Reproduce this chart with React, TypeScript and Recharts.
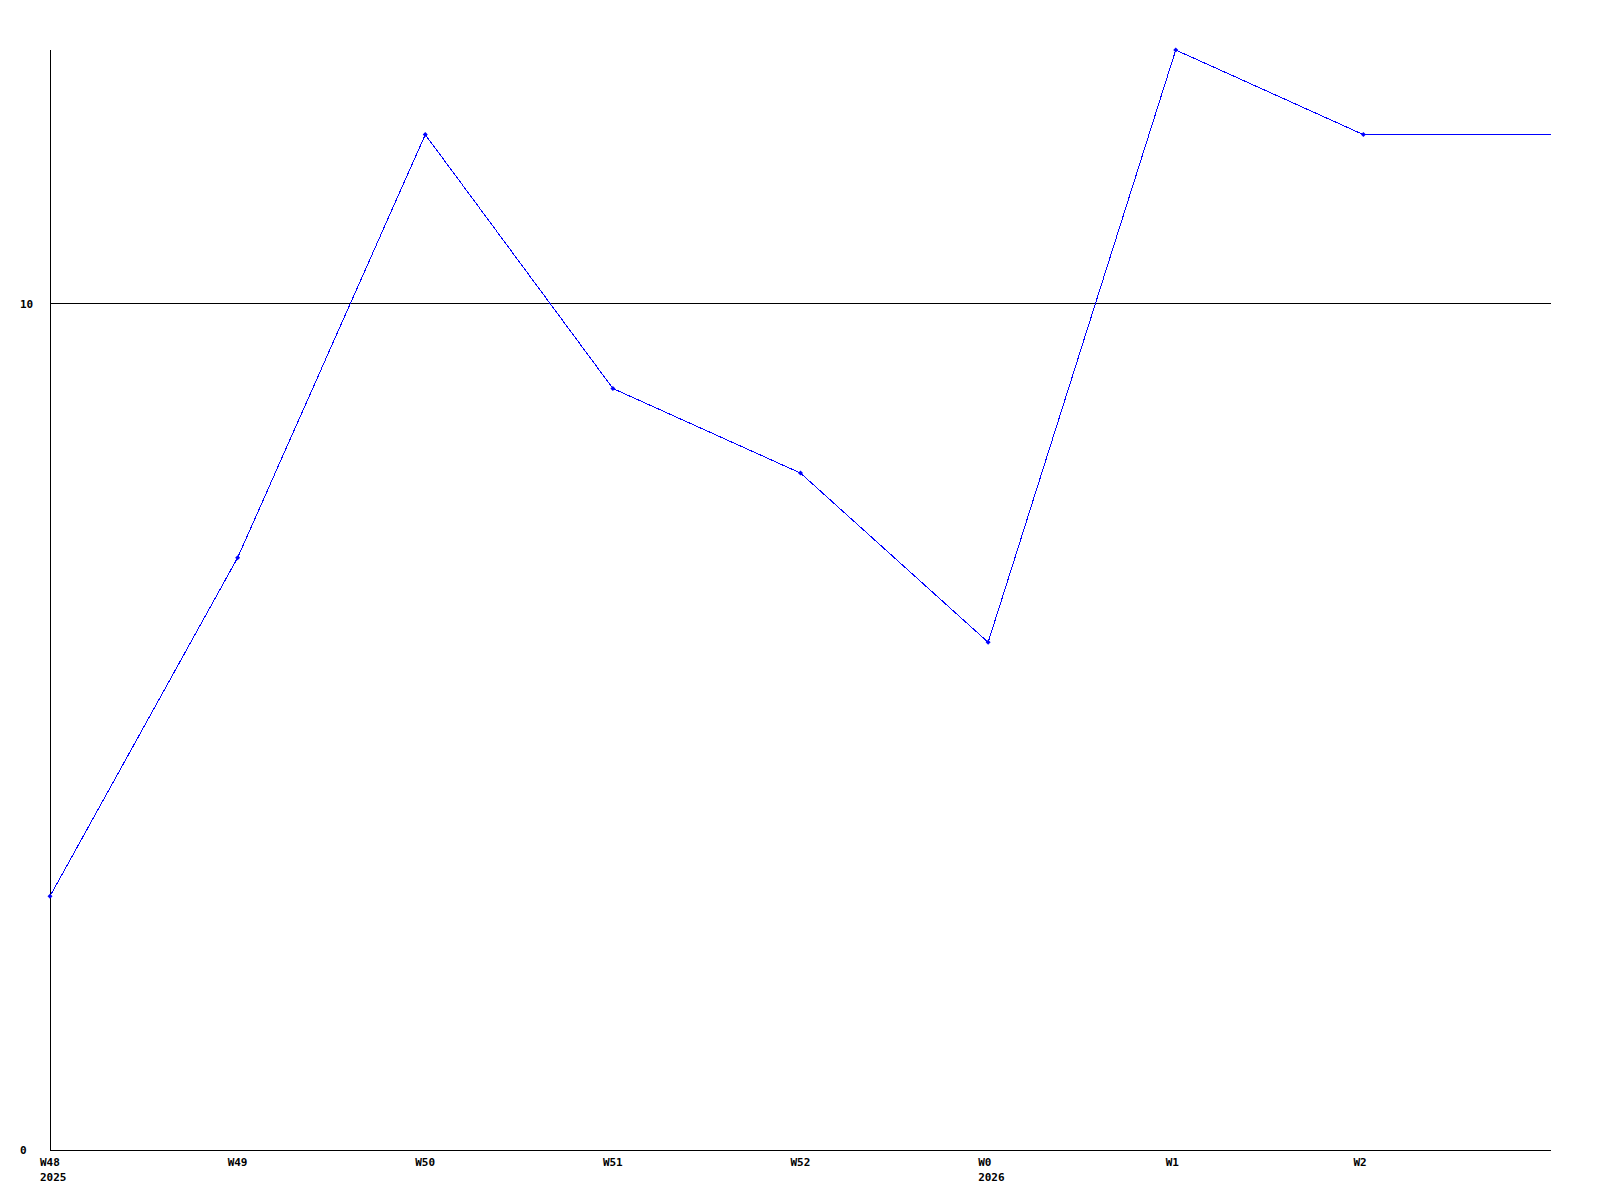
import { LineChart, Line, XAxis, YAxis, ReferenceLine } from "recharts";

// weekly values, last point is the running week (no label, no marker)
const weeks = ["W48", "W49", "W50", "W51", "W52", "W0", "W1", "W2", "W3"];
const years = ["2025", "", "", "", "", "2026", "", "", ""];
const values = [3, 7, 12, 9, 8, 6, 13, 12, 12];
const yTicks = [0, 10];

const data = weeks.map((w, i) => ({ week: w, year: years[i], value: values[i] }));

const FONT = "'DejaVu Sans Mono', monospace";

const WeekTick = ({ x, y, payload, index }: any) => {
  if (index === weeks.length - 1) return null;
  const yr = years[index];
  return (
    <g>
      <text x={x - 10} y={y + 16} textAnchor="start" fontFamily={FONT} fontWeight="bold" fontSize={11} fill="#000">
        {payload.value}
      </text>
      {yr && (
        <text x={x - 10} y={y + 31} textAnchor="start" fontFamily={FONT} fontWeight="bold" fontSize={11} fill="#000">
          {yr}
        </text>
      )}
    </g>
  );
};

const ValueTick = ({ x, y, payload }: any) => (
  <text x={x - 30} y={y + 4} textAnchor="start" fontFamily={FONT} fontWeight="bold" fontSize={11} fill="#000">
    {payload.value}
  </text>
);

const SmallDot = ({ cx, cy, index }: any) => {
  if (index === weeks.length - 1 || cx == null) return <g key={index} />;
  return (
    <polygon
      key={index}
      points={`${cx},${cy - 2.5} ${cx + 2.5},${cy} ${cx},${cy + 2.5} ${cx - 2.5},${cy}`}
      fill="#0000ff"
    />
  );
};

export default function App() {
  return (
    <div style={{ position: "absolute", left: 0, top: 0, background: "#fff" }}>
      <LineChart width={1600} height={1200} data={data} margin={{ top: 50, right: 49, left: 0, bottom: 0 }}>
        <XAxis
          dataKey="week"
          height={50}
          axisLine={{ stroke: "#000", shapeRendering: "crispEdges" }}
          tickLine={false}
          tickSize={0}
          tickMargin={0}
          interval={0}
          tick={<WeekTick />}
        />
        <YAxis
          width={50}
          domain={[0, 13]}
          ticks={yTicks}
          axisLine={{ stroke: "#000", shapeRendering: "crispEdges" }}
          tickLine={false}
          tickSize={0}
          tickMargin={0}
          tick={<ValueTick />}
        />
        <ReferenceLine y={10} stroke="#000" strokeWidth={1} shapeRendering="crispEdges" />
        <Line
          type="linear"
          dataKey="value"
          stroke="#0000ff"
          strokeWidth={1}
          shapeRendering="crispEdges"
          dot={<SmallDot />}
          activeDot={false}
          isAnimationActive={false}
        />
      </LineChart>
    </div>
  );
}
